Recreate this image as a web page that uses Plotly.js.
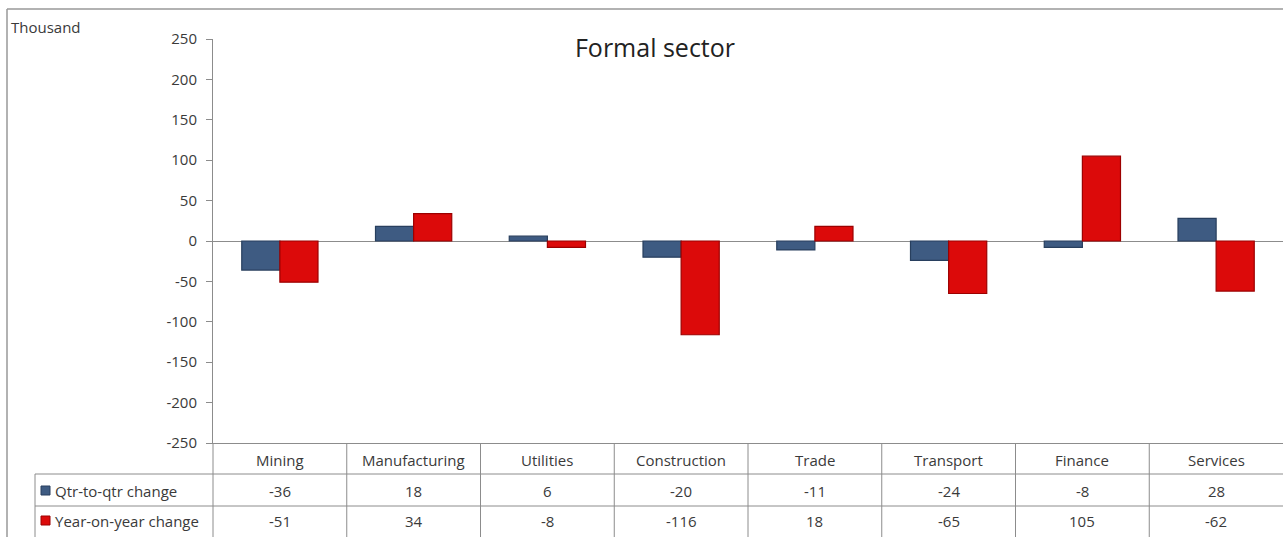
<!DOCTYPE html>
<html>
<head>
<meta charset="utf-8">
<script src="https://cdn.plot.ly/plotly-3.0.1.min.js"></script>
<style>
  html, body { margin: 0; padding: 0; background: #fff; }
  #chart { width: 1283px; height: 537px; }
</style>
</head>
<body>
<div id="chart"></div>
<script>
// ---- data ----
const categories = ["Mining", "Manufacturing", "Utilities", "Construction", "Trade", "Transport", "Finance", "Services"];
const qtrToQtr = [-36, 18, 6, -20, -11, -24, -8, 28];
const yearOnYear = [-51, 34, -8, -116, 18, -65, 105, -62];
const seriesNames = ["Qtr-to-qtr change", "Year-on-year change"];
const yTicks = [-250, -200, -150, -100, -50, 0, 50, 100, 150, 200, 250];

// ---- style ----
const FONT = "'Open Sans', 'Noto Sans', sans-serif";
const TXT = "#3a3a3a";
const blue = "#3e5b82", blueEdge = "#283f5e";
const red = "#dc0a0a", redEdge = "#9c0000";
const gridGray = "#8c8c8c";

const W = 1283, H = 537;
const mL = 213, mR = 0, mT = 39, mB = 94;
const plotW = W - mL - mR, plotH = H - mT - mB;
const px = x => (x - mL) / plotW;          // pixel x -> paper
const py = y => (H - mB - y) / plotH;      // pixel y -> paper

const traces = [
  { type: "bar", name: seriesNames[0], x: categories, y: qtrToQtr,
    marker: { color: blue, line: { color: blueEdge, width: 1.2 } }, hoverinfo: "x+y" },
  { type: "bar", name: seriesNames[1], x: categories, y: yearOnYear,
    marker: { color: red, line: { color: redEdge, width: 1.2 } }, hoverinfo: "x+y" }
];

const shapes = [];
const annotations = [];
const line = { color: gridGray, width: 1 };

// outer chart border (top and left)
shapes.push({ type: "line", xref: "paper", yref: "paper", x0: px(7), x1: px(W), y0: py(9), y1: py(9), line: { color: "#999", width: 1.5 } });
shapes.push({ type: "line", xref: "paper", yref: "paper", x0: px(7), x1: px(7), y0: py(9), y1: py(H), line: { color: "#999", width: 1.5 } });

// data table rows
const rowTop1 = 474, rowTop2 = 506;
shapes.push({ type: "line", xref: "paper", yref: "paper", x0: px(35), x1: 1, y0: py(rowTop1), y1: py(rowTop1), line });
shapes.push({ type: "line", xref: "paper", yref: "paper", x0: px(35), x1: 1, y0: py(rowTop2), y1: py(rowTop2), line });
shapes.push({ type: "line", xref: "paper", yref: "paper", x0: px(35), x1: px(35), y0: py(rowTop1), y1: py(H), line });
shapes.push({ type: "line", xref: "paper", yref: "paper", x0: 0, x1: 0, y0: 0, y1: py(H), line });
// vertical separators between categories (data coordinates)
for (let i = 1; i < categories.length; i++) {
  shapes.push({ type: "line", xref: "x", yref: "paper", x0: i - 0.5, x1: i - 0.5, y0: 0, y1: py(H), line });
}

const tfont = { family: FONT, size: 15, color: TXT };
const headerY = py(460), row1Y = py(491), row2Y = py(521);
categories.forEach((c, i) => {
  annotations.push({ xref: "x", yref: "paper", x: c, y: headerY, text: c, showarrow: false,
    font: tfont, xanchor: "center", yanchor: "middle" });
  annotations.push({ xref: "x", yref: "paper", x: c, y: row1Y, text: String(qtrToQtr[i]), showarrow: false,
    font: tfont, xanchor: "center", yanchor: "middle" });
  annotations.push({ xref: "x", yref: "paper", x: c, y: row2Y, text: String(yearOnYear[i]), showarrow: false,
    font: tfont, xanchor: "center", yanchor: "middle" });
});

// row labels with legend keys
[[row1Y, 491, blue, blueEdge, seriesNames[0]], [row2Y, 521, red, redEdge, seriesNames[1]]].forEach(r => {
  shapes.push({ type: "rect", xref: "paper", yref: "paper", x0: px(41), x1: px(50), y0: py(r[1] - 5), y1: py(r[1] + 4),
    fillcolor: r[2], line: { color: r[3], width: 1 } });
  annotations.push({ xref: "paper", yref: "paper", x: px(53), y: r[0], text: r[4], showarrow: false,
    font: tfont, xanchor: "left", yanchor: "middle" });
});

// unit label
annotations.push({ xref: "paper", yref: "paper", x: px(9), y: py(27), text: "Thousand", showarrow: false,
  font: tfont, xanchor: "left", yanchor: "middle" });

const layout = {
  width: W, height: H,
  margin: { l: mL, r: mR, t: mT, b: mB, pad: 0 },
  paper_bgcolor: "#fff", plot_bgcolor: "#fff",
  title: { text: "Formal sector", font: { family: FONT, size: 25, color: "#222" },
    xref: "paper", x: px(655), xanchor: "center", yref: "container", y: 1 - 48 / H, yanchor: "middle" },
  showlegend: false,
  barmode: "group", bargap: 0.43, bargroupgap: 0,
  xaxis: { type: "category", showticklabels: false, showgrid: false, zeroline: false,
    showline: true, linecolor: gridGray, linewidth: 1, ticks: "", fixedrange: true },
  yaxis: { range: [-250, 250], tickvals: yTicks, ticktext: yTicks.map(String), showgrid: false,
    zeroline: true, zerolinecolor: gridGray, zerolinewidth: 1,
    showline: true, linecolor: gridGray, linewidth: 1, ticks: "outside", ticklen: 6, tickcolor: gridGray,
    ticklabelstandoff: 6,
    tickfont: { family: FONT, size: 15, color: TXT }, fixedrange: true },
  shapes, annotations
};

Plotly.newPlot("chart", traces, layout, { displayModeBar: false, staticPlot: true });
</script>
</body>
</html>
